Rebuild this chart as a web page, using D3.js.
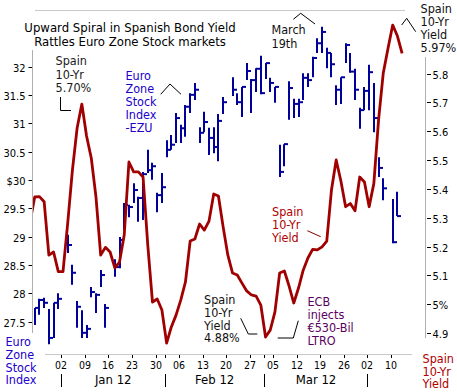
<!DOCTYPE html>
<html><head><meta charset="utf-8">
<script src="https://cdn.jsdelivr.net/npm/d3@7/dist/d3.min.js"></script>
<style>
html,body{margin:0;padding:0;background:#fff;}
svg{display:block;font-family:"DejaVu Sans Condensed","DejaVu Sans",sans-serif;font-stretch:condensed;}
</style></head><body>
<svg id="c" width="457" height="392"></svg>
<script>
// ---------- data ----------
const stockDates = ["2011-12-23","2011-12-26","2011-12-27","2011-12-28","2011-12-29","2011-12-30",
"2012-01-03","2012-01-04","2012-01-05","2012-01-06","2012-01-09","2012-01-10","2012-01-11","2012-01-12","2012-01-13",
"2012-01-17","2012-01-18","2012-01-19","2012-01-20","2012-01-23","2012-01-24","2012-01-25","2012-01-26","2012-01-27","2012-01-30","2012-01-31",
"2012-02-01","2012-02-02","2012-02-03","2012-02-06","2012-02-07","2012-02-08","2012-02-09","2012-02-10","2012-02-13","2012-02-14","2012-02-15","2012-02-16","2012-02-17",
"2012-02-21","2012-02-22","2012-02-23","2012-02-24","2012-02-27","2012-02-28","2012-02-29",
"2012-03-01","2012-03-02","2012-03-05","2012-03-06","2012-03-07","2012-03-08","2012-03-09","2012-03-12","2012-03-13","2012-03-14","2012-03-15","2012-03-16","2012-03-19","2012-03-20","2012-03-21","2012-03-22","2012-03-23","2012-03-26","2012-03-27","2012-03-28","2012-03-29","2012-03-30",
"2012-04-02","2012-04-03","2012-04-04","2012-04-05","2012-04-09","2012-04-10"];
const stockHigh = [27.74,27.90,27.92,27.72,27.83,28.00,
29.03,28.50,27.86,27.70,27.44,28.11,28.00,28.41,27.81,
28.60,28.99,29.59,29.56,29.94,29.70,30.14,30.53,30.30,29.77,30.12,
30.70,30.79,31.18,30.97,31.32,31.53,31.71,30.93,31.20,30.92,30.93,31.16,31.46,
31.81,31.53,31.64,32.06,31.78,31.97,32.19,
32.06,31.80,31.64,30.62,30.63,31.74,31.43,31.43,31.88,31.88,32.17,32.50,32.70,32.33,32.24,31.67,31.81,32.41,32.24,31.96,31.27,31.64,
32.03,31.71,30.40,30.03,29.66,29.79];
const stockLow = [27.44,27.62,27.74,27.10,27.21,27.72,
28.71,28.15,27.39,27.21,27.21,27.93,27.65,28.11,27.39,
28.29,28.44,29.12,29.34,29.59,29.26,29.29,30.12,30.00,29.43,29.59,
30.40,30.53,30.65,30.65,30.76,31.18,31.41,30.65,30.84,30.44,30.47,30.33,31.16,
31.48,31.32,31.11,31.76,31.18,31.55,31.51,
31.78,31.55,31.36,30.05,30.24,31.06,31.09,31.11,31.41,31.64,31.81,32.24,32.24,31.97,31.81,31.32,31.34,32.06,31.89,31.41,30.90,31.23,
31.23,30.84,30.05,29.64,28.88,29.36];
const stockClose = [27.74,27.88,27.83,27.21,27.83,27.90,
28.85,28.36,27.76,27.30,27.37,28.02,27.97,28.32,27.74,
28.46,28.94,29.56,29.52,29.82,29.68,30.10,30.17,30.24,29.73,29.87,
30.53,30.62,31.09,30.91,31.29,31.50,31.59,30.83,31.02,30.74,30.58,31.04,31.37,
31.59,31.37,31.64,31.92,31.76,31.96,31.53,
32.06,31.71,31.64,30.14,30.63,31.62,31.34,31.37,31.80,31.76,32.15,32.41,32.61,32.24,32.04,31.59,31.81,32.38,31.91,31.59,31.23,31.57,
31.90,31.09,30.21,29.85,28.90,29.36];

const yieldDates = ["2011-12-22","2011-12-23","2011-12-26","2011-12-27","2011-12-28","2011-12-29","2011-12-30",
"2012-01-02","2012-01-03","2012-01-04","2012-01-05","2012-01-06","2012-01-09","2012-01-10","2012-01-11","2012-01-12","2012-01-13",
"2012-01-16","2012-01-17","2012-01-18","2012-01-19","2012-01-20","2012-01-23","2012-01-24","2012-01-25","2012-01-26","2012-01-27",
"2012-01-30","2012-01-31","2012-02-01","2012-02-02","2012-02-03","2012-02-06","2012-02-07","2012-02-08","2012-02-09","2012-02-10",
"2012-02-13","2012-02-14","2012-02-15","2012-02-16","2012-02-17","2012-02-20","2012-02-21","2012-02-22","2012-02-23","2012-02-24",
"2012-02-27","2012-02-28","2012-02-29","2012-03-01","2012-03-02","2012-03-05","2012-03-06","2012-03-07","2012-03-08","2012-03-09",
"2012-03-12","2012-03-13","2012-03-14","2012-03-15","2012-03-16","2012-03-19","2012-03-20","2012-03-21","2012-03-22","2012-03-23",
"2012-03-26","2012-03-27","2012-03-28","2012-03-29","2012-03-30","2012-04-02","2012-04-03","2012-04-04","2012-04-05","2012-04-06",
"2012-04-09","2012-04-10","2012-04-11"];
const yieldValues = [5.285,5.372,5.373,5.355,5.170,5.181,5.113,
5.113,5.281,5.465,5.611,5.694,5.583,5.507,5.372,5.170,5.197,
5.181,5.126,5.146,5.240,5.493,5.459,5.459,5.441,5.205,5.007,
5.018,4.980,4.865,4.921,4.962,5.014,5.077,5.219,5.226,5.278,
5.257,5.288,5.382,5.375,5.268,5.170,5.108,5.101,5.073,5.046,
5.032,5.028,4.997,4.886,4.910,4.973,5.108,5.115,5.063,5.004,
5.056,5.118,5.160,5.190,5.188,5.199,5.219,5.396,5.500,5.427,
5.338,5.349,5.324,5.441,5.424,5.338,5.419,5.639,5.802,5.887,
5.968,5.930,5.870];

const leftTicks = [27.5,28,28.5,29,29.5,30,30.5,31,31.5,32];
const leftTickLabels = ["27.5","28","28.5","29","29.5","$30","30.5","31","31.5","32"];
const rightTicks = [4.9,5.0,5.1,5.2,5.3,5.4,5.5,5.6,5.7,5.8];
const rightTickLabels = ["4.9","5%","5.1","5.2","5.3","5.4","5.5","5.6","5.7","5.8"];
const dayTickDates = ["2012-01-02","2012-01-09","2012-01-16","2012-01-23","2012-01-30","2012-02-06","2012-02-13","2012-02-20","2012-02-27","2012-03-05","2012-03-12","2012-03-19","2012-03-26","2012-04-02","2012-04-09"];
const dayTickLabels = ["02","09","16","23","30","06","13","20","27","05","12","19","26","02","10"];
const monthStartDates = ["2012-01-02","2012-02-01","2012-03-01","2012-04-02"];
const monthLabels = ["Jan 12","Feb 12","Mar 12"];

// ---------- helpers ----------
const base = Date.UTC(2012,0,2); // Monday
function wd(s){ // weekday index from 2012-01-02
  const days = Math.round((Date.parse(s+"T00:00:00Z")-base)/864e5);
  const w = Math.floor(days/7), r = days-7*w;
  return w*5+Math.min(r,5);
}
const svg = d3.select("#c");
const FONT_ANN = 12.5;

const x = d3.scaleLinear().domain([0,65]).range([63,369.15]);
const yL = d3.scaleLinear().domain([27.5,32]).range([321.5,66.5]);
const yR = d3.scaleLinear().domain([4.9,5.8]).range([333,73.5]);
const TICKOFF = -1.7;

// frame lines
svg.append("line").attr("x1",35).attr("x2",405).attr("y1",10.5).attr("y2",10.5).attr("stroke","#c8c8c8");
svg.append("line").attr("x1",45).attr("x2",412).attr("y1",354.5).attr("y2",354.5).attr("stroke","#c8c8c8");
svg.append("line").attr("x1",32.5).attr("x2",32.5).attr("y1",50).attr("y2",333).attr("stroke","#b0b0b0");
svg.append("line").attr("x1",425.5).attr("x2",425.5).attr("y1",57).attr("y2",338).attr("stroke","#b0b0b0");

// left axis ticks
const gl = svg.append("g");
leftTicks.forEach((v,i)=>{
  const yy = Math.round(yL(v))+0.5;
  gl.append("line").attr("x1",28.5).attr("x2",32).attr("y1",yy).attr("y2",yy).attr("stroke","#000");
  gl.append("text").attr("x",25.5).attr("y",yy+4).attr("text-anchor","end").attr("font-size",11)
    .attr("fill","#000").text(leftTickLabels[i]);
});
// right axis ticks
const gr = svg.append("g");
rightTicks.forEach((v,i)=>{
  const yy = Math.round(yR(v))+0.5;
  gr.append("line").attr("x1",427).attr("x2",431).attr("y1",yy).attr("y2",yy).attr("stroke","#000");
  gr.append("text").attr("x",432.5).attr("y",yy+4).attr("font-size",11).attr("fill","#000").text(rightTickLabels[i]);
});

// x axis ticks
const gx = svg.append("g");
dayTickDates.forEach((d,i)=>{
  const xx = Math.round(x(wd(d))+TICKOFF)+0.5;
  gx.append("line").attr("x1",xx).attr("x2",xx).attr("y1",355).attr("y2",358).attr("stroke","#000");
  gx.append("text").attr("x",xx-0.5).attr("y",369).attr("text-anchor","middle").attr("font-size",10.5).attr("fill","#000").text(dayTickLabels[i]);
});
monthStartDates.forEach((d,i)=>{
  const xx = Math.round(x(wd(d))+TICKOFF)+0.5;
  gx.append("line").attr("x1",xx).attr("x2",xx).attr("y1",355).attr("y2",358).attr("stroke","#000");
  gx.append("line").attr("x1",xx).attr("x2",xx).attr("y1",374).attr("y2",387).attr("stroke","#000");
  if(i<monthLabels.length){
    const nx = x(wd(monthStartDates[i+1]))+TICKOFF;
    gx.append("text").attr("x",(xx+nx)/2).attr("y",383.5).attr("text-anchor","middle").attr("font-size",13).attr("fill","#000").text(monthLabels[i]);
  }
});

// stock HLC bars
const bars = svg.append("g").attr("stroke","#00009a").attr("stroke-width",2);
stockDates.forEach((d,i)=>{
  const xx = Math.round(x(wd(d)));
  bars.append("line").attr("x1",xx).attr("x2",xx).attr("y1",yL(stockHigh[i])).attr("y2",yL(stockLow[i]));
  const yc = yL(stockClose[i]);
  bars.append("line").attr("x1",xx).attr("x2",xx+4).attr("y1",yc).attr("y2",yc);
});

// yield line
svg.append("clipPath").attr("id","clp").append("rect").attr("x",33).attr("y",0).attr("width",392).attr("height",392);
const yieldData = yieldDates.map((d,i)=>({i:wd(d), v:yieldValues[i]}));
svg.append("path").datum(yieldData).attr("clip-path","url(#clp)")
  .attr("fill","none").attr("stroke","#a00000").attr("stroke-width",2.8).attr("stroke-linejoin","round")
  .attr("d", d3.line().x(d=>x(d.i)).y(d=>yR(d.v)));

// text helper
function block(lines, x0, y0, color, size, lh){
  const t = svg.append("text").attr("font-size",size||FONT_ANN).attr("fill",color);
  lines.forEach((s,k)=>t.append("tspan").attr("x",x0).attr("y",y0+k*(lh||13.2)).text(s));
  return t;
}
// title
svg.append("text").attr("x",130).attr("y",31.5).attr("text-anchor","middle").attr("font-size",13).attr("fill","#000").text("Upward Spiral in Spanish Bond Yield");
svg.append("text").attr("x",130).attr("y",45.5).attr("text-anchor","middle").attr("font-size",13).attr("fill","#000").text("Rattles Euro Zone Stock markets");

block(["Spain","10-Yr","5.70%"],55.5,65.3,"#1a1a1a");
block(["Euro","Zone","Stock","Index","-EZU"],125.5,80,"#2200cc",FONT_ANN,13);
block(["March","19th"],271.5,34.3,"#111");
block(["Spain","10-Yr","Yield","5.97%"],420.5,12.7,"#111");
block(["Spain","10-Yr","Yield"],272,216,"#b00000");
block(["Spain","10-Yr","Yield","4.88%"],204,304,"#111",FONT_ANN,12.8);
block(["ECB","injects","€530-Bil","LTRO"],307.5,306,"#5a0060",FONT_ANN,13);
block(["Euro","Zone","Stock","Index"],5.5,346,"#2200cc",FONT_ANN,12.8);
block(["Spain","10-Yr","Yield"],422.5,362.7,"#b00000",FONT_ANN,12.8);

// callout lines
const pl = d3.line();
function callout(pts, color){
  svg.append("path").attr("d",pl(pts)).attr("fill","none").attr("stroke",color||"#000").attr("stroke-width",1);
}
callout([[60.5,97],[60.5,110.5],[71,110.5]]);
callout([[160.7,94.3],[170,84],[181,94.3]]);
callout([[293.3,19.3],[300.7,13.3],[315,24]]);
callout([[401.7,25],[406.7,18.3],[415.7,31.7]]);
callout([[307.3,230.7],[320.7,236.7]],"#800000");
callout([[240.7,318.3],[248.3,334],[257.3,334]]);
callout([[277.7,338],[293.3,338],[298.3,320.7]]);
</script>
</body></html>
